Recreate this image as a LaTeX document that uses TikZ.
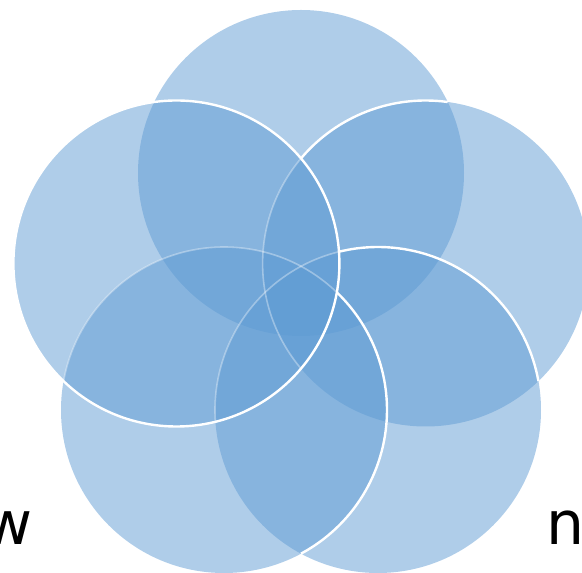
\documentclass[tikz,border=0pt]{standalone}
\usepackage{fontspec}
\setmainfont{DejaVu Sans}
\definecolor{vennblue}{RGB}{95,155,211}
\begin{document}
\begin{tikzpicture}[x=1pt,y=1pt,
  vennfill/.style={fill=vennblue, fill opacity=0.5, draw=none},
  brightedge/.style={draw=white, line width=2.4pt},
  faintedge/.style={draw=white, draw opacity=0.35, line width=1.6pt},
  lbl/.style={inner sep=0pt, text=black, font=\fontsize{60}{60}\selectfont}]
\useasboundingbox (0,0) rectangle (582,573);
\clip (0,0) rectangle (582,573);
\coordinate (T) at (301,400);
\coordinate (L) at (176.4,309.5);
\coordinate (R) at (425.6,309.5);
\coordinate (BL) at (224,163);
\coordinate (BR) at (378,163);
% fills
\fill[vennfill] (T) circle (163pt);
\fill[vennfill] (R) circle (163pt);
\fill[vennfill] (BR) circle (163pt);
\fill[vennfill] (BL) circle (163pt);
\fill[vennfill] (L) circle (163pt);
% faint edges
\draw[faintedge] ([shift={(139.86:163pt)}]R) arc[start angle=139.86, end angle=220.14, radius=163pt];
\draw[faintedge] ([shift={(103.86:163pt)}]BR) arc[start angle=103.86, end angle=184.14, radius=163pt];
\draw[faintedge] ([shift={(46.19:163pt)}]BL) arc[start angle=46.19, end angle=169.81, radius=163pt];
% bright edges
\draw[brightedge] ([shift={(82.19:163pt)}]R) arc[start angle=82.19, end angle=139.86, radius=163pt];
\draw[brightedge] ([shift={(10.19:163pt)}]BR) arc[start angle=10.19, end angle=103.86, radius=163pt];
\draw[brightedge] ([shift={(-61.81:163pt)}]BL) arc[start angle=-61.81, end angle=46.19, radius=163pt];
\draw[brightedge] (L) circle (163pt);
% labels
\node[lbl, anchor=base east] (w) at (33,28) {w};
\node[lbl, anchor=base west] (n) at (546.5,28) {n};
\end{tikzpicture}
\end{document}
